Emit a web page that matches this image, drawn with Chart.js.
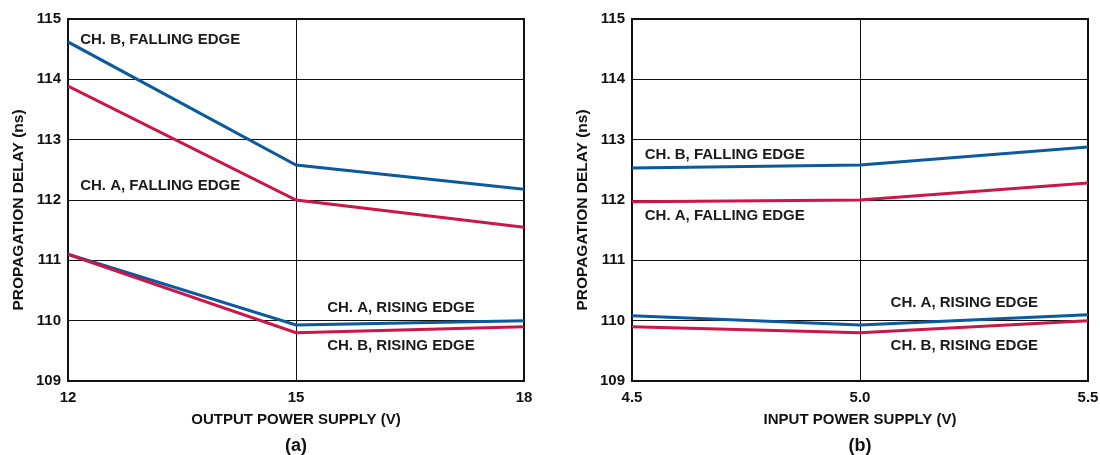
<!DOCTYPE html>
<html><head><meta charset="utf-8">
<script src="https://cdn.jsdelivr.net/npm/chart.js@4"></script>
<style>
html,body{margin:0;padding:0;background:#fff;width:1100px;height:455px;overflow:hidden}
.box{position:absolute;top:0;height:455px}
#a{left:0;width:560px}
#b{left:560px;width:540px}
</style></head><body>
<div class="box" id="a"><canvas id="ca"></canvas></div>
<div class="box" id="b"><canvas id="cb"></canvas></div>
<script>
// ---- data: chart (a) ----
const outputSupply = [12, 15, 18];
const aChBFalling = [114.62, 112.58, 112.18];
const aChAFalling = [113.89, 112.0, 111.55];
const aChARising  = [111.1, 109.93, 110.0];
const aChBRising  = [111.1, 109.8, 109.9];
// ---- data: chart (b) ----
const inputSupply = [4.5, 5.0, 5.5];
const bChBFalling = [112.53, 112.58, 112.88];
const bChAFalling = [111.97, 112.0, 112.28];
const bChARising  = [110.08, 109.93, 110.1];
const bChBRising  = [109.9, 109.8, 110.0];
// ---- axis ----
const yMin = 109, yMax = 115;
const yTitle = 'PROPAGATION DELAY (ns)';
const labelText = ['CH. B, FALLING EDGE','CH. A, FALLING EDGE','CH. A, RISING EDGE','CH. B, RISING EDGE'];
// label anchors (data units)
const aLabelX = [12.16, 12.16, 15.41, 15.41];
const aLabelY = [114.65, 112.23, 110.22, 109.58];
const bLabelX = [4.528, 4.528, 5.067, 5.067];
const bLabelY = [112.74, 111.73, 110.29, 109.59];

const BLUE = '#0b5a9e', RED = '#cc1549';
const FONT = "'Liberation Sans', Arial, sans-serif";

function pts(xs, ys){ return xs.map((x,i)=>({x:x, y:ys[i]})); }

const labelPlugin = {
  id:'edgeLabels',
  afterDatasetsDraw(chart){
    const o = chart.options.plugins.edgeLabels;
    const ctx = chart.ctx, xs = chart.scales.x, ys = chart.scales.y, a = chart.chartArea;
    ctx.save();
    ctx.font = "bold 15px " + FONT;
    ctx.fillStyle = '#1a1a1a';
    ctx.textAlign = 'left';
    ctx.textBaseline = 'middle';
    o.texts.forEach((t,i)=>{
      ctx.fillText(t, xs.getPixelForValue(o.xs[i]), ys.getPixelForValue(o.ys[i]));
    });
    // y-axis title
    ctx.translate(a.left - 49, (a.top + a.bottom) / 2 + 10);
    ctx.rotate(-Math.PI / 2);
    ctx.textAlign = 'center';
    ctx.font = "bold 15.5px " + FONT;
    ctx.fillStyle = '#111';
    ctx.fillText(o.yTitle, 0, 0);
    ctx.restore();
  }
};
const framePlugin = {
  id:'frame',
  beforeDatasetsDraw(chart){
    const a = chart.chartArea, ctx = chart.ctx;
    ctx.save();
    ctx.strokeStyle = '#111';
    ctx.lineWidth = 2;
    ctx.strokeRect(a.left, a.top, a.right - a.left, a.bottom - a.top);
    ctx.restore();
  }
};

function make(id, xs, series, xmin, xmax, fmt, xTitle, sub, yWidth, padRight, lx, ly){
  const datasets = series.map(s=>({
    data: pts(xs, s.v), borderColor: s.c, borderWidth: 3, pointRadius: 0,
    tension: 0, fill: false
  }));
  return new Chart(document.getElementById(id), {
    type: 'line',
    data: { datasets },
    plugins: [framePlugin, labelPlugin],
    options: {
      responsive: true, maintainAspectRatio: false, animation: false,
      events: [],
      layout: { padding: { top: 19, right: padRight, bottom: 0, left: 0 } },
      plugins: {
        legend: { display: false }, tooltip: { enabled: false },
        title: { display: true, text: sub, position: 'bottom', fullSize: false, color: '#111',
                 font: { family: FONT, size: 18, weight: 'bold', lineHeight: 1 },
                 padding: { top: 8, bottom: 0 } },
        edgeLabels: { texts: labelText, xs: lx, ys: ly, yTitle: yTitle }
      },
      scales: {
        x: {
          type: 'linear', min: xmin, max: xmax,
          afterBuildTicks(s){ s.ticks = xs.map(v=>({value:v})); },
          afterFit(s){ s.height = 48; s.paddingRight = 0; s.paddingLeft = 0; },
          ticks: { color: '#111', padding: 8, font: { family: FONT, size: 15, weight: 'bold' },
                   callback: fmt },
          grid: { color: '#111', lineWidth: 1, drawTicks: false, tickLength: 0 },
          border: { display: false },
          title: { display: true, text: xTitle, color: '#111', padding: { top: 4, bottom: 0 },
                   font: { family: FONT, size: 15, weight: 'bold' } }
        },
        y: {
          min: yMin, max: yMax,
          ticks: { stepSize: 1, color: '#111', padding: 7, font: { family: FONT, size: 15, weight: 'bold' } },
          grid: { color: '#111', lineWidth: 1, drawTicks: false, tickLength: 0 },
          border: { display: false },
          afterFit(s){ s.width = yWidth; },
          title: { display: false }
        }
      }
    }
  });
}

make('ca', outputSupply,
  [{v:aChAFalling,c:RED},{v:aChBRising,c:RED},{v:aChBFalling,c:BLUE},{v:aChARising,c:BLUE}],
  12, 18, v=>String(v), 'OUTPUT POWER SUPPLY (V)', '(a)', 68, 36, aLabelX, aLabelY);
make('cb', inputSupply,
  [{v:bChAFalling,c:RED},{v:bChBRising,c:RED},{v:bChBFalling,c:BLUE},{v:bChARising,c:BLUE}],
  4.5, 5.5, v=>Number(v).toFixed(1), 'INPUT POWER SUPPLY (V)', '(b)', 72, 12, bLabelX, bLabelY);
</script>
</body></html>
